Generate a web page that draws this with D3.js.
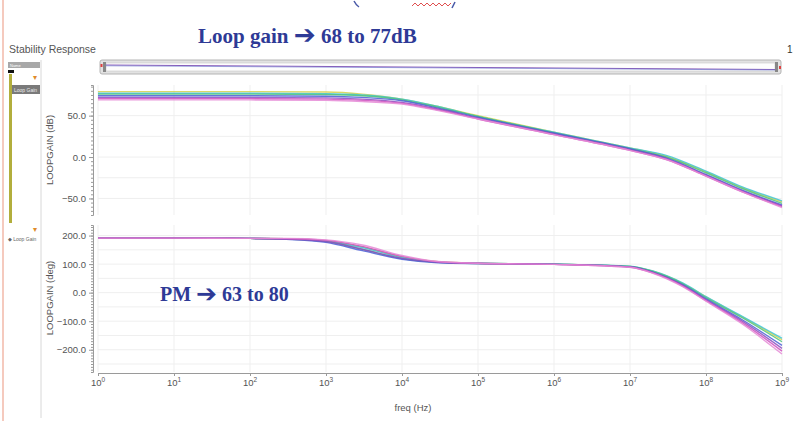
<!DOCTYPE html>
<html>
<head>
<meta charset="utf-8">
<script src="https://cdn.jsdelivr.net/npm/d3@7"></script>
<style>
  body { margin: 0; background: #fff; }
  svg { display: block; font-family: "Liberation Sans", "DejaVu Sans", sans-serif; }
</style>
</head>
<body>
<div id="chart"></div>
<script>
// frequency points (Hz) for the gain curves
const gainFreqs = [1, 10, 100, 1e3, 3e3, 1e4, 3e4, 1e5, 1e6, 1e7, 3e7, 1e8, 3e8, 1e9];
const gainYellow  = [79, 79, 79, 78.5, 76, 70, 61, 50, 30, 11, 1, -18, -37, -54];
const gainCyan    = [77, 77, 77, 76.5, 75, 70, 61, 49, 30, 11, 2, -17, -36, -53];
const gainGreen   = [76, 76, 76, 75.5, 74, 69, 60, 49, 29, 10, 0, -19, -38, -56];
const gainBlue    = [74, 74, 74, 73.5, 72, 68, 59, 48, 29, 10, -1, -21, -40, -58];
const gainPurple  = [72, 72, 72, 71.5, 70, 66, 58, 47, 28, 9, -2, -22, -41, -59];
const gainMagenta = [70.5, 70.5, 70.5, 70, 68.5, 65, 57, 46, 27, 8, -3, -23, -42, -60];
const gainPink    = [69, 69, 69, 68.5, 67, 64, 56, 46, 27, 8, -3, -23, -42, -61];

// frequency points (Hz) for the phase curves
const phaseFreqs = [1, 10, 100, 300, 1e3, 3e3, 1e4, 3e4, 1e5, 1e6, 1e7, 2e7, 5e7, 1e8, 3e8, 1e9];
const phaseYellow  = [191, 191, 190, 189, 182, 160, 125, 108, 103, 100, 92, 75, 32, -15, -85, -165];
const phaseCyan    = [191, 191, 190, 189, 181, 158, 123, 107, 103, 100, 93, 76, 33, -14, -83, -160];
const phaseGreen   = [191, 191, 190, 188, 179, 152, 119, 106, 102, 100, 92, 74, 30, -18, -88, -172];
const phaseBlue    = [191, 191, 190, 187, 176, 147, 117, 105, 102, 100, 91, 72, 27, -22, -95, -185];
const phasePurple  = [191, 191, 190, 188, 179, 152, 120, 106, 102, 99, 90, 71, 25, -25, -100, -195];
const phaseMagenta = [191, 191, 190, 189, 183, 162, 127, 108, 103, 99, 89, 69, 22, -28, -105, -205];
const phasePink    = [191, 191, 190, 190, 185, 167, 130, 109, 103, 99, 89, 68, 20, -30, -110, -215];

const seriesColors = ["#d6d24a", "#3fc6d6", "#4fc27a", "#4a5ed6", "#8a4fc0", "#cf4fc0", "#e58ad6"];
const gainSeries = [gainYellow, gainCyan, gainGreen, gainBlue, gainPurple, gainMagenta, gainPink];
const phaseSeries = [phaseYellow, phaseCyan, phaseGreen, phaseBlue, phasePurple, phaseMagenta, phasePink];

const gainTicks = [50, 0, -50];
const phaseTicks = [200, 100, 0, -100, -200];
const decades = d3.range(0, 10);

const width = 795, height = 421;
const svg = d3.select("#chart").append("svg")
    .attr("width", width)
    .attr("height", height);

// --- window chrome ---
svg.append("line").attr("x1", 3).attr("x2", 3).attr("y1", 0).attr("y2", height)
    .attr("stroke", "#f2b8a8").attr("stroke-width", 1.5);
svg.append("line").attr("x1", 41).attr("x2", 41).attr("y1", 60).attr("y2", 418)
    .attr("stroke", "#d8d8d8");
svg.append("text").attr("x", 9).attr("y", 53).attr("font-size", 10.5).attr("fill", "#555")
    .text("Stability Response");
svg.append("text").attr("x", 787).attr("y", 53).attr("font-size", 10).attr("fill", "#333").text("1");

// little squiggle at top of page
svg.append("path").attr("d", "M412,6 l3,-3 l3,3 l3,-3 l3,3 l3,-3 l3,3 l3,-3 l3,3 l3,-3 l3,3 l3,-3 l3,3 l3,-3")
    .attr("fill", "none").attr("stroke", "#e05050").attr("stroke-width", 1);
svg.append("path").attr("d", "M354,1 q2,4 5,6").attr("fill", "none").attr("stroke", "#4a5aa8").attr("stroke-width", 1.5);
svg.append("path").attr("d", "M452,8 l3,-6").attr("fill", "none").attr("stroke", "#4a5aa8").attr("stroke-width", 1.5);

// left legend panel
const side = svg.append("g");
side.append("rect").attr("x", 8).attr("y", 62).attr("width", 32).attr("height", 6).attr("fill", "#a8a8a8");
side.append("text").attr("x", 10).attr("y", 67).attr("font-size", 4).attr("fill", "#fff").text("Name");
side.append("rect").attr("x", 8).attr("y", 70).attr("width", 6).attr("height", 3).attr("fill", "#111");
side.append("rect").attr("x", 9).attr("y", 74).attr("width", 3).attr("height", 149).attr("fill", "#b2ae3c");
side.append("text").attr("x", 33).attr("y", 80).attr("font-size", 8).attr("fill", "#e08a2a").text("▾");
side.append("rect").attr("x", 12).attr("y", 85).attr("width", 28).attr("height", 9).attr("fill", "#7a7a7a");
side.append("text").attr("x", 14).attr("y", 91.5).attr("font-size", 5).attr("fill", "#eee").text("Loop Gain");
side.append("text").attr("x", 33).attr("y", 232).attr("font-size", 8).attr("fill", "#e08a2a").text("▾");
side.append("text").attr("x", 8).attr("y", 241).attr("font-size", 5).attr("fill", "#666").text("◆ Loop Gain");

// --- scales ---
const x = d3.scaleLog().domain([1, 1e9]).range([98, 782]);
const yGain = d3.scaleLinear().domain([-70, 87]).range([215, 85]);
const yPhase = d3.scaleLinear().domain([-278, 237]).range([372, 225]);

// overview / scroll bar
svg.append("rect").attr("x", 100).attr("y", 60).attr("width", 681).attr("height", 14).attr("rx", 2)
    .attr("fill", "#e2e2e2").attr("stroke", "#b4b4b4");
svg.append("rect").attr("x", 106).attr("y", 63).attr("width", 669).attr("height", 8)
    .attr("fill", "#fdfdfd").attr("stroke", "#c8c8c8").attr("stroke-width", 0.6);
svg.append("line").attr("x1", 106).attr("x2", 775).attr("y1", 65).attr("y2", 69.5)
    .attr("stroke", "#8a5ab8").attr("stroke-width", 1);
svg.append("line").attr("x1", 106).attr("x2", 775).attr("y1", 65.8).attr("y2", 70)
    .attr("stroke", "#6a78d0").attr("stroke-width", 0.6);
svg.append("rect").attr("x", 103).attr("y", 62).attr("width", 3).attr("height", 10).attr("fill", "#888");
svg.append("rect").attr("x", 775).attr("y", 62).attr("width", 3).attr("height", 10).attr("fill", "#888");
svg.append("rect").attr("x", 100.5).attr("y", 64).attr("width", 2).attr("height", 3).attr("fill", "#e04040");
svg.append("rect").attr("x", 779).attr("y", 66).attr("width", 2).attr("height", 3).attr("fill", "#e04040");

// --- grids ---
const grid = svg.append("g").attr("stroke", "#efefef").attr("stroke-width", 1);
decades.forEach(d => {
    const gx = x(Math.pow(10, d));
    grid.append("line").attr("x1", gx).attr("x2", gx).attr("y1", 85).attr("y2", 215);
    grid.append("line").attr("x1", gx).attr("x2", gx).attr("y1", 225).attr("y2", 372);
});
d3.range(-50, 87, 25).forEach(v => {
    grid.append("line").attr("x1", 98).attr("x2", 782).attr("y1", yGain(v)).attr("y2", yGain(v));
});
d3.range(-250, 237, 50).forEach(v => {
    grid.append("line").attr("x1", 98).attr("x2", 782).attr("y1", yPhase(v)).attr("y2", yPhase(v));
});

// --- axes ---
function yAxis(scale, ticks, minorStep) {
    const g = svg.append("g").attr("transform", "translate(93,0)");
    const [lo, hi] = scale.domain();
    g.call(d3.axisLeft(scale).tickValues(d3.range(Math.ceil(lo / minorStep) * minorStep, hi, minorStep))
        .tickSize(2).tickFormat(""));
    g.call(sel => sel.selectAll("line, path").attr("stroke", "#9a9a9a"));
    const lab = svg.append("g").attr("transform", "translate(93,0)")
        .call(d3.axisLeft(scale).tickValues(ticks).tickSize(4).tickFormat(d3.format(".1f")));
    lab.select(".domain").remove();
    lab.selectAll("line").attr("stroke", "#9a9a9a");
    lab.selectAll("text").attr("font-size", 9.5).attr("fill", "#555")
        .attr("font-family", "Liberation Sans, DejaVu Sans, sans-serif");
}
yAxis(yGain, gainTicks, 5);
yAxis(yPhase, phaseTicks, 10);

// x axis with log minor ticks
const xAxisG = svg.append("g").attr("transform", "translate(0,373)");
xAxisG.call(d3.axisBottom(x).ticks(9).tickSize(3).tickFormat(""));
xAxisG.selectAll("line, path").attr("stroke", "#9a9a9a");
const xLabels = svg.append("g");
decades.forEach(d => {
    const t = xLabels.append("text").attr("x", x(Math.pow(10, d))).attr("y", 386)
        .attr("text-anchor", "middle").attr("font-size", 9.5).attr("fill", "#555");
    t.append("tspan").text("10");
    t.append("tspan").attr("dy", -4).attr("font-size", 6.5).text(d);
});
svg.append("text").attr("x", 413).attr("y", 411).attr("text-anchor", "middle")
    .attr("font-size", 9.5).attr("fill", "#555").text("freq (Hz)");

svg.append("text").attr("transform", "translate(53,150) rotate(-90)").attr("text-anchor", "middle")
    .attr("font-size", 9.5).attr("fill", "#555").text("LOOPGAIN (dB)");
svg.append("text").attr("transform", "translate(53,298) rotate(-90)").attr("text-anchor", "middle")
    .attr("font-size", 9.5).attr("fill", "#555").text("LOOPGAIN (deg)");

// --- curves ---
function drawCurves(freqs, seriesList, yScale) {
    const line = d3.line()
        .x((d, i) => x(freqs[i]))
        .y(d => yScale(d))
        .curve(d3.curveMonotoneX);
    seriesList.forEach((s, i) => {
        svg.append("path")
            .attr("d", line(s))
            .attr("fill", "none")
            .attr("stroke", seriesColors[i])
            .attr("stroke-width", 1.4)
            .attr("stroke-opacity", 0.85);
    });
}
drawCurves(gainFreqs, gainSeries, yGain);
drawCurves(phaseFreqs, phaseSeries, yPhase);

// --- annotations ---
function note(xPos, yPos, size, before, after) {
    const t = svg.append("text").attr("x", xPos).attr("y", yPos)
        .attr("font-family", "Liberation Serif, Times New Roman, serif")
        .attr("font-weight", "bold").attr("font-size", size).attr("fill", "#2e3a96");
    t.append("tspan").text(before + " ");
    t.append("tspan").attr("font-family", "DejaVu Sans, sans-serif").attr("font-size", size * 1.25)
        .attr("dy", 1).text("➔");
    t.append("tspan").attr("dy", -1).text(" " + after);
}
note(198, 43, 21, "Loop gain", "68 to 77dB");
note(160, 301, 20, "PM", "63 to 80");
</script>
</body>
</html>
